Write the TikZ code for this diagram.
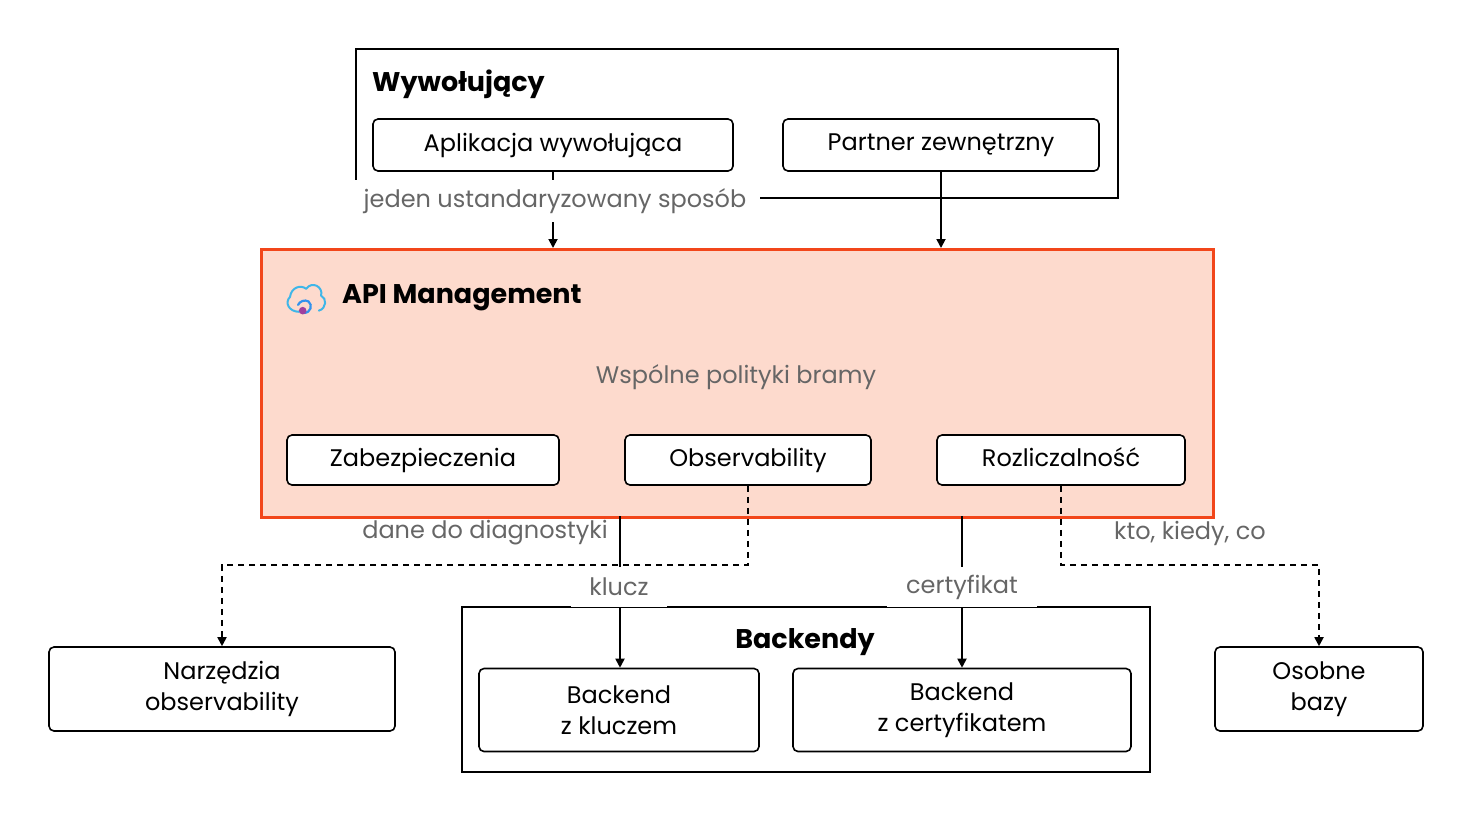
\documentclass[tikz,border=0pt]{standalone}
\usepackage{fontspec}
\setmainfont{Poppins}
\usetikzlibrary{arrows.meta}
\definecolor{apifill}{HTML}{FDDACD}
\definecolor{apiline}{HTML}{F2461A}
\definecolor{lbl}{HTML}{666666}
\definecolor{ic}{HTML}{3FB6E8}
\begin{document}
\begin{tikzpicture}[x=1pt,y=-1pt,
  box/.style={draw=black,line width=1.6pt,rounded corners=5pt,fill=white,align=center,font=\fontsize{24}{31}\selectfont,inner sep=0pt},
  grp/.style={draw=black,line width=1.8pt},
  lab/.style={text=lbl,font=\fontsize{24}{28}\selectfont,inner sep=3pt},
  wlab/.style={lab,fill=white,inner sep=6pt},
  arr/.style={line width=1.8pt,-{Triangle[length=9pt,width=9pt]}},
  dsh/.style={arr,dash pattern=on 6pt off 5pt},
  ttl/.style={font=\bfseries\fontsize{27}{31}\selectfont,anchor=west,inner sep=0pt}]
\useasboundingbox (0,0) rectangle (1472,828);
% callers
\node[grp,minimum width=762pt,minimum height=149pt,anchor=north west,inner sep=0pt] (callers) at (355,48) {};
\node[ttl] (callersT) at (372,84) {Wywołujący};
\node[box,minimum width=360pt,minimum height=52pt] (app) at (553,145) {Aplikacja wywołująca};
\node[box,minimum width=316pt,minimum height=52pt] (partner) at (941,145) {Partner zewnętrzny};
% APIM
\node[draw=apiline,fill=apifill,line width=2.6pt,minimum width=952pt,minimum height=268pt,anchor=north west,inner sep=0pt] (apim) at (260,248) {};
\draw[arr] (app.south) -- (app.south |- apim.north);
\node[wlab,inner sep=0pt,minimum width=410pt,minimum height=42pt] (std) at (555,201) {jeden ustandaryzowany sposób};
\draw[arr] (partner.south) -- (partner.south |- apim.north);
% icon
\begin{scope}[shift={(305,298)},scale=1.15]
\draw[ic,line width=2pt,line cap=round,line join=round] (-5,12) .. controls (-14,12) and (-18,4) .. (-13,-1) .. controls (-12,-9) and (-4,-12) .. (1,-8) .. controls (6,-15) and (16,-10) .. (14,-2) .. controls (19,0) and (19,9) .. (12,11);
\draw[ic!80!blue,line width=2.2pt,line cap=round] (-1,13) .. controls (5,13) and (7,6) .. (3,3) .. controls (0,1) and (-5,3) .. (-6,6);
\fill[violet!75] (-2,11) circle (3.3);
\node[inner sep=0pt,minimum size=2pt] (icon) at (0,0) {};
\end{scope}
\node[ttl] (apimT) at (342,298) {API Management};
\node[lab] (pol) at (736,377) {Wspólne polityki bramy};
\tikzset{sm/.style={box,text height=18pt,text depth=5pt}}
\node[sm,minimum width=272pt,minimum height=50pt] (sec) at (423,460) {Zabezpieczenia};
\node[sm,minimum width=246pt,minimum height=50pt] (obs) at (748,460) {Observability};
\node[sm,minimum width=248pt,minimum height=50pt] (acc) at (1061,460) {Rozliczalność};
% backends
\node[grp,minimum width=688pt,minimum height=165pt,anchor=north west,inner sep=0pt] (bk) at (461,606) {};
\node[ttl,anchor=center] (bkT) at (805,642) {Backendy};
\node[box,minimum width=280pt,minimum height=83pt] (bkey) at (619,710) {Backend\\z kluczem};
\node[box,minimum width=338pt,minimum height=83pt] (bcert) at (962,710) {Backend\\z certyfikatem};
\node[box,minimum width=346pt,minimum height=84pt] (tools) at (222,689) {Narzędzia\\observability};
\node[box,minimum width=208pt,minimum height=84pt] (dbs) at (1319,689) {Osobne\\bazy};
% connectors
\coordinate (k0) at (620,516);
\coordinate (c0) at (962,516);
\draw[dsh] (obs.south) -- (748,565) -- (222,565) -- (tools.north);
\draw[dsh] (acc.south) -- (1061,565) -- (1319,565) -- (dbs.north);
\draw[arr] (k0) -- (k0 |- bkey.north);
\draw[arr] (c0) -- (c0 |- bcert.north);
\node[wlab,inner sep=0pt,minimum width=96pt,minimum height=40pt] (kl) at (619,587) {klucz};
\node[wlab,inner sep=0pt,minimum width=150pt,minimum height=40pt] (ce) at (962,587) {certyfikat};
\node[lab] (diag) at (485,533) {dane do diagnostyki};
\node[lab] (who) at (1190,533) {kto, kiedy, co};
\end{tikzpicture}
\end{document}
